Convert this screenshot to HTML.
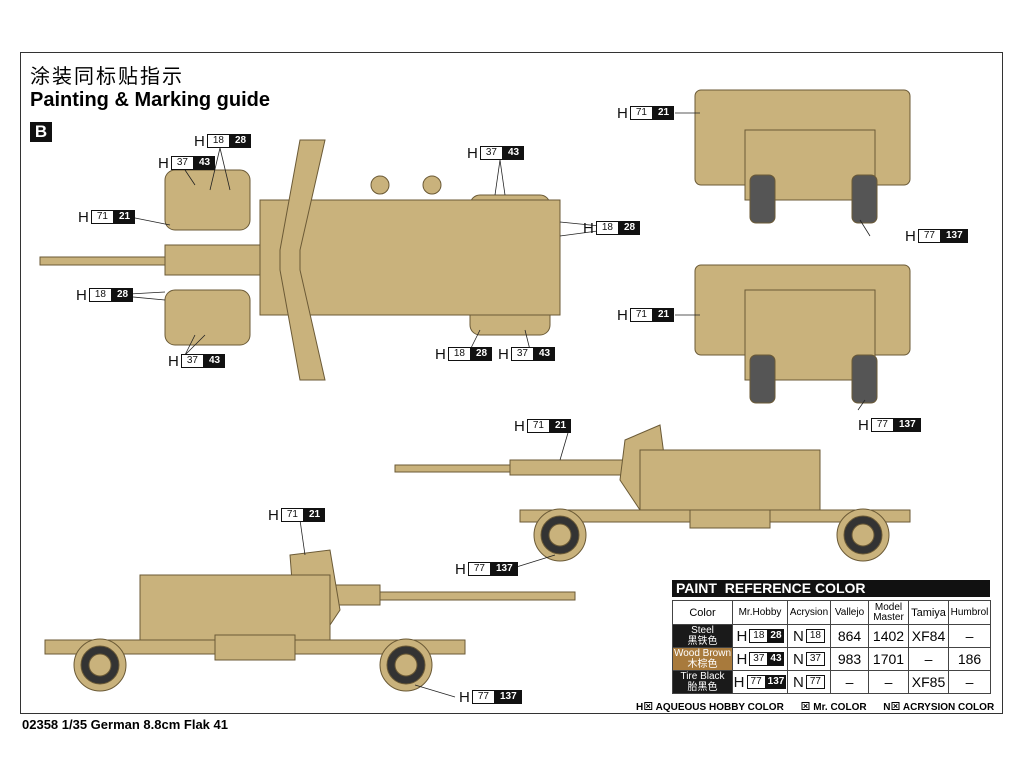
<!DOCTYPE html>
<html><head><meta charset="utf-8"><style>
body{margin:0;width:1024px;height:768px;background:#fff;position:relative;overflow:hidden;font-family:"Liberation Sans","Noto Sans CJK SC",sans-serif}
.frame{position:absolute;left:20px;top:52px;width:983px;height:662px;border:1px solid #333;box-sizing:border-box}
.lb{position:absolute;height:14px;display:flex;align-items:center;font-size:15px;color:#111}
.lb .w{display:inline-block;border:1px solid #111;font-size:10px;line-height:12px;padding:0 5px;margin-left:2px;background:#fff}
.lb .k{display:inline-block;background:#111;color:#fff;font-size:10px;font-weight:bold;line-height:14px;padding:0 5px}
table .lb .w{padding:0 3px}
table .lb .k{padding:0 2px}
table{position:absolute;left:672px;top:600px;width:318px;table-layout:fixed;border-collapse:collapse;font-size:14px}
td{border:1px solid #444;text-align:center;padding:0;height:22px;overflow:hidden}
th{border:1px solid #444;font-weight:normal;font-size:10px;line-height:10px;padding:0;overflow:hidden}
.cn{font-size:10px;line-height:11px;color:#fff}
</style></head><body>
<div class="frame"></div>
<div style="position:absolute;left:30px;top:60px;font-size:20px;letter-spacing:2px">涂装同标贴指示</div>
<div style="position:absolute;left:30px;top:89px;font-size:20px;font-weight:bold">Painting &amp; Marking guide</div>
<div style="position:absolute;left:30px;top:122px;width:22px;height:20px;background:#111;color:#fff;font-weight:bold;font-size:17px;text-align:center;line-height:20px">B</div>
<div style="position:absolute;left:22px;top:717px;font-size:13px;font-weight:bold">02358 1/35 German 8.8cm Flak 41</div>

<svg width="1024" height="768" style="position:absolute;left:0;top:0">
<g fill="#c9b27c" stroke="#6b5a36" stroke-width="1">
<rect x="40" y="257" width="230" height="8"/>
<rect x="165" y="245" width="110" height="30"/>
<rect x="165" y="170" width="85" height="60" rx="10"/>
<rect x="165" y="290" width="85" height="55" rx="10"/>
<rect x="470" y="195" width="80" height="45" rx="10"/>
<rect x="470" y="285" width="80" height="50" rx="10"/>
<rect x="260" y="200" width="300" height="115"/>
<polygon points="300,140 325,140 300,250 300,270 325,380 300,380 280,270 280,250"/>
<circle cx="380" cy="185" r="9"/><circle cx="432" cy="185" r="9"/>
<rect x="695" y="90" width="215" height="95" rx="6"/>
<rect x="745" y="130" width="130" height="70"/>
<rect x="750" y="175" width="25" height="48" rx="6" fill="#555"/>
<rect x="852" y="175" width="25" height="48" rx="6" fill="#555"/>
<rect x="695" y="265" width="215" height="90" rx="6"/>
<rect x="745" y="290" width="130" height="90"/>
<rect x="750" y="355" width="25" height="48" rx="6" fill="#555"/>
<rect x="852" y="355" width="25" height="48" rx="6" fill="#555"/>
<rect x="395" y="465" width="240" height="7"/>
<rect x="510" y="460" width="130" height="15"/>
<polygon points="625,440 660,425 670,500 640,510 620,480"/>
<rect x="640" y="450" width="180" height="60"/>
<rect x="520" y="510" width="390" height="12"/>
<rect x="690" y="510" width="80" height="18"/>
<circle cx="560" cy="535" r="26"/><circle cx="560" cy="535" r="19" fill="#333"/><circle cx="560" cy="535" r="11"/>
<circle cx="863" cy="535" r="26"/><circle cx="863" cy="535" r="19" fill="#333"/><circle cx="863" cy="535" r="11"/>
<rect x="330" y="592" width="245" height="8"/>
<rect x="320" y="585" width="60" height="20"/>
<polygon points="290,555 330,550 340,610 320,640 295,620"/>
<rect x="140" y="575" width="190" height="70"/>
<rect x="45" y="640" width="420" height="14"/>
<rect x="215" y="635" width="80" height="25"/>
<circle cx="100" cy="665" r="26"/><circle cx="100" cy="665" r="19" fill="#333"/><circle cx="100" cy="665" r="11"/>
<circle cx="406" cy="665" r="26"/><circle cx="406" cy="665" r="19" fill="#333"/><circle cx="406" cy="665" r="11"/>
</g>
<g stroke="#222" stroke-width="0.8" fill="none">
<path d="M220,148 L210,190 M220,148 L230,190 M185,170 L195,185 M130,217 L170,225 M112,295 L165,300 M112,295 L165,292 M185,355 L195,335 M185,355 L205,335 M500,160 L495,195 M500,160 L505,195 M620,228 L560,222 M620,228 L560,236 M470,350 L480,330 M530,350 L525,330 M675,113 L700,113 M870,236 L860,220 M675,315 L700,315 M858,410 L865,400 M570,426 L560,460 M510,569 L555,555 M300,520 L305,555 M455,697 L415,685"/>
</g>
</svg>

<div class="lb" style="left:194px;top:134px">H<span class="w">18</span><span class="k">28</span></div>
<div class="lb" style="left:158px;top:156px">H<span class="w">37</span><span class="k">43</span></div>
<div class="lb" style="left:78px;top:210px">H<span class="w">71</span><span class="k">21</span></div>
<div class="lb" style="left:76px;top:288px">H<span class="w">18</span><span class="k">28</span></div>
<div class="lb" style="left:168px;top:354px">H<span class="w">37</span><span class="k">43</span></div>
<div class="lb" style="left:467px;top:146px">H<span class="w">37</span><span class="k">43</span></div>
<div class="lb" style="left:583px;top:221px">H<span class="w">18</span><span class="k">28</span></div>
<div class="lb" style="left:435px;top:347px">H<span class="w">18</span><span class="k">28</span></div>
<div class="lb" style="left:498px;top:347px">H<span class="w">37</span><span class="k">43</span></div>
<div class="lb" style="left:617px;top:106px">H<span class="w">71</span><span class="k">21</span></div>
<div class="lb" style="left:905px;top:229px">H<span class="w">77</span><span class="k">137</span></div>
<div class="lb" style="left:617px;top:308px">H<span class="w">71</span><span class="k">21</span></div>
<div class="lb" style="left:858px;top:418px">H<span class="w">77</span><span class="k">137</span></div>
<div class="lb" style="left:514px;top:419px">H<span class="w">71</span><span class="k">21</span></div>
<div class="lb" style="left:455px;top:562px">H<span class="w">77</span><span class="k">137</span></div>
<div class="lb" style="left:268px;top:508px">H<span class="w">71</span><span class="k">21</span></div>
<div class="lb" style="left:459px;top:690px">H<span class="w">77</span><span class="k">137</span></div>

<div style="position:absolute;left:672px;top:580px;width:318px;height:17px;background:#111;color:#fff;font-weight:bold;font-size:14px;line-height:17px;padding-left:4px;box-sizing:border-box">PAINT&nbsp; REFERENCE COLOR</div>
<table>
<colgroup><col style="width:60px"><col style="width:55px"><col style="width:43px"><col style="width:38px"><col style="width:40px"><col style="width:40px"><col style="width:42px"></colgroup>
<tr style="height:24px"><th style="font-size:11px">Color</th><th>Mr.Hobby</th><th>Acrysion</th><th>Vallejo</th><th>Model<br>Master</th><th style="font-size:11px">Tamiya</th><th>Humbrol</th></tr>
<tr><td style="background:#1a1a1a" class="cn">Steel<br>黑铁色</td><td><div class="lb" style="position:static;justify-content:center">H<span class="w">18</span><span class="k">28</span></div></td><td><div class="lb" style="position:static;justify-content:center">N<span class="w">18</span></div></td><td>864</td><td>1402</td><td>XF84</td><td>–</td></tr>
<tr><td style="background:#a87a3c" class="cn">Wood Brown<br>木棕色</td><td><div class="lb" style="position:static;justify-content:center">H<span class="w">37</span><span class="k">43</span></div></td><td><div class="lb" style="position:static;justify-content:center">N<span class="w">37</span></div></td><td>983</td><td>1701</td><td>–</td><td>186</td></tr>
<tr><td style="background:#1a1a1a" class="cn">Tire Black<br>胎黑色</td><td><div class="lb" style="position:static;justify-content:center">H<span class="w">77</span><span class="k">137</span></div></td><td><div class="lb" style="position:static;justify-content:center">N<span class="w">77</span></div></td><td>–</td><td>–</td><td>XF85</td><td>–</td></tr>
</table>
<div style="position:absolute;left:636px;top:698px;font-size:10px;font-weight:bold;white-space:nowrap">H⊠ AQUEOUS HOBBY COLOR &nbsp;&nbsp;&nbsp;&nbsp; ⊠ Mr. COLOR &nbsp;&nbsp;&nbsp;&nbsp; N⊠ ACRYSION COLOR</div>
</body></html>
